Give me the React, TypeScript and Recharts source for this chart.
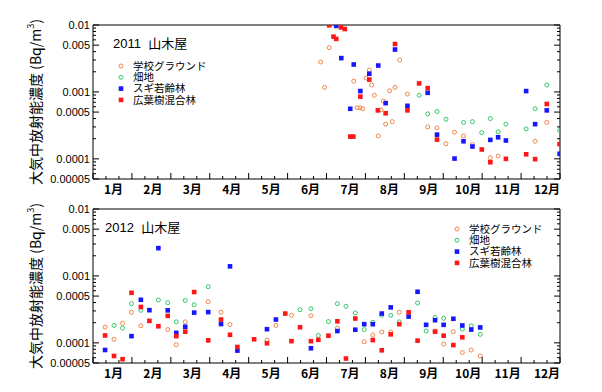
import React from "react";
import { ScatterChart, Scatter, XAxis, YAxis, Legend } from "recharts";

const monthLabels = ["1月", "2月", "3月", "4月", "5月", "6月", "7月", "8月", "9月", "10月", "11月", "12月"];
const yLabelValues = [0.01, 0.005, 0.001, 0.0005, 0.0001, 0.00005];
const yLabelTexts = ["0.01", "0.005", "0.001", "0.0005", "0.0001", "0.00005"];

const seriesNames = ["学校グラウンド", "畑地", "スギ若齢林", "広葉樹混合林"];
const seriesColors = ["#f2874a", "#33c96a", "#1616ff", "#ff1616"];
const seriesMarkers = ["circle", "circle", "square", "square"];

// [position in months (1 = 1 Jan, 13 = 31 Dec), Bq/m3]
const school2011 = [
  [6.85, 0.0028], [6.95, 0.00117], [7.07, 0.0046], [7.7, 0.00145], [7.79, 0.00058], [7.86, 0.00058],
  [7.93, 0.00056], [8.02, 0.00161], [8.1, 0.00212], [8.16, 0.00127], [8.23, 0.00089], [8.33, 0.00022],
  [8.4, 0.00054], [8.46, 0.00073], [8.52, 0.00033], [8.62, 0.00104], [8.69, 0.00036], [8.76, 0.00117],
  [8.88, 0.003], [9.08, 0.00093], [9.6, 0.0003], [9.84, 0.00029], [10.07, 0.000168], [10.29, 0.00025],
  [10.52, 0.00022], [10.75, 0.000164], [11.21, 0.000104], [11.41, 0.00011], [12.36, 0.000183], [12.66, 0.00035],
];
const field2011 = [
  [9.38, 0.00089], [9.6, 0.00047], [9.84, 0.00051], [10.07, 0.00039], [10.52, 0.00035], [10.75, 0.00036],
  [10.99, 0.000247], [11.21, 0.0004], [11.41, 0.000253], [11.61, 0.00033], [12.13, 0.00028], [12.36, 0.00056],
  [12.66, 0.00127], [12.99, 0.000265],
];
const cedar2011 = [
  [7.25, 0.0097], [7.38, 0.0032], [7.7, 0.00257], [7.61, 0.00056], [7.87, 0.00103], [8.1, 0.00187],
  [8.33, 0.00248], [8.52, 0.00068], [8.76, 0.0043], [9.08, 0.00062], [9.6, 0.00097], [9.84, 0.00023],
  [10.29, 0.000101], [10.52, 0.000183], [10.75, 0.000153], [11.21, 0.000192], [11.41, 0.00021], [11.61, 0.000188],
  [12.13, 0.00103], [12.36, 0.00033], [12.66, 0.00053], [12.99, 0.000119],
];
const broadleaf2011 = [
  [7.07, 0.0099], [7.18, 0.0067], [7.25, 0.0062], [7.37, 0.0092], [7.47, 0.0087], [7.61, 0.000215],
  [7.69, 0.000215], [7.87, 0.00085], [8.1, 0.00153], [8.32, 0.00053], [8.52, 0.00048], [8.76, 0.0052],
  [9.08, 0.00053], [9.38, 0.00134], [9.6, 0.00114], [9.84, 0.000194], [10.99, 0.000138], [11.21, 0.000089],
  [11.61, 0.0001], [12.13, 0.000117], [12.36, 0.000099], [12.66, 0.00066], [12.99, 0.000166],
];

const school2012 = [
  [1.31, 0.000172], [1.54, 0.000113], [1.76, 0.000196], [1.99, 0.000286], [2.23, 0.00018], [2.92, 0.000158],
  [3.14, 0.000094], [3.37, 0.000206], [3.96, 0.000412], [4.29, 0.000286], [4.52, 0.000188], [5.47, 0.00011],
  [5.7, 0.000182], [6.1, 0.000258], [6.6, 0.000255], [7.28, 0.000166], [7.97, 0.000104], [8.19, 0.000131],
  [8.42, 0.000145], [8.65, 0.000145], [8.87, 0.000286], [9.79, 0.00015], [10.01, 0.000096], [10.26, 0.000147],
  [10.49, 0.0000716], [10.72, 0.0000782], [10.95, 0.0000637],
];
const field2012 = [
  [1.54, 0.000182], [1.76, 0.000166], [1.99, 0.000385], [2.23, 0.000306], [2.68, 0.000436], [2.92, 0.000398],
  [3.14, 0.000206], [3.37, 0.00043], [3.6, 0.000372], [3.96, 0.00069], [6.32, 0.000313], [6.6, 0.000324],
  [6.79, 0.000129], [7.05, 0.000208], [7.28, 0.000385], [7.5, 0.000351], [7.74, 0.00028], [7.97, 0.000158],
  [8.19, 0.000203], [8.42, 0.000258], [8.65, 0.000258], [8.87, 0.000206], [9.34, 0.000394], [9.56, 0.00015],
  [9.79, 0.000239], [10.01, 0.000233], [10.49, 0.00016], [10.72, 0.00018], [10.95, 0.000134],
];
const cedar2012 = [
  [1.31, 0.0000782], [1.99, 0.000126], [2.23, 0.00044], [2.45, 0.000308], [2.68, 0.0026], [2.92, 0.000306],
  [3.14, 0.000141], [3.37, 0.000174], [3.6, 0.000283], [3.96, 0.000288], [4.29, 0.000191], [4.52, 0.00139],
  [4.71, 0.0000766], [5.47, 0.00016], [5.7, 0.000223], [6.6, 0.000083], [7.28, 0.00015], [7.74, 0.000157],
  [7.97, 0.00019], [8.19, 0.00019], [8.42, 0.000274], [8.65, 0.000339], [9.11, 0.000247], [9.34, 0.00058],
  [9.56, 0.000186], [9.79, 0.000218], [10.01, 0.000186], [10.26, 0.000229], [10.49, 0.000182], [10.72, 0.000158],
  [10.95, 0.00017],
];
const broadleaf2012 = [
  [1.31, 0.000129], [1.54, 0.0000637], [1.76, 0.000057], [1.99, 0.00056], [2.23, 0.000344], [2.45, 0.000213],
  [2.68, 0.000177], [2.92, 0.000253], [3.14, 0.000126], [3.37, 0.000147], [3.6, 0.000574], [3.96, 0.000109],
  [4.29, 0.000223], [4.52, 0.000132], [4.71, 0.0000867], [5.14, 0.000113], [5.47, 0.0000984], [5.94, 0.000274],
  [6.1, 0.000106], [6.32, 0.000171], [6.6, 0.000106], [6.79, 0.000111], [7.05, 0.000128], [7.28, 0.00021],
  [7.5, 0.0000583], [7.74, 0.000231], [8.19, 0.00011], [8.42, 0.0000774], [8.65, 0.000134], [8.87, 0.00019],
  [9.11, 0.000286], [9.34, 0.000108], [9.79, 0.000147], [10.01, 0.000128], [10.26, 0.0000927], [10.49, 0.000121],
];

const FONT = "'Liberation Sans', Arial, 'Noto Sans CJK JP', sans-serif";
const JP_FONT = "'Noto Sans CJK JP', 'Liberation Sans', sans-serif";

// tick positions every 1/6 month: marks on every 1/3, labels on month centres
const xTicks = Array.from({ length: 73 }, (_, i) => 1 + i / 6);
const topTicks = Array.from({ length: 37 }, (_, i) => 1 + i / 3);
const yTicks: number[] = [];
for (let e = -5; e <= -3; e++) {
  for (let m = 1; m <= 9; m++) {
    const v = m * Math.pow(10, e);
    if (v >= 0.00005 * 0.999) yTicks.push(v);
  }
}
yTicks.push(0.01);

const toPoints = (arr: number[][]) => arr.map(([x, v]) => ({ x, v }));

const labelIndex = (v: number) => yLabelValues.findIndex((l) => Math.abs(l - v) / l < 1e-6);

const BottomTick = (props: any) => {
  const { x, y, index } = props;
  const out: React.ReactNode[] = [];
  if (index % 2 === 0) {
    const len = index % 6 === 0 ? 6 : 3;
    out.push(<line key="t" x1={x} y1={y} x2={x} y2={y - len} stroke="#000" strokeWidth={1} />);
  }
  if (index % 6 === 3) {
    const m = (index - 3) / 6;
    out.push(
      <text key="l" x={x + 1 + m * 0.5} y={y + 15} textAnchor="middle" fontSize={12} fontWeight="bold" fontFamily={JP_FONT} fill="#000">
        {monthLabels[m]}
      </text>
    );
  }
  return <g>{out}</g>;
};

const TopTick = (props: any) => {
  const { x, y, index } = props;
  const len = index % 3 === 0 ? 6 : 3;
  return <line x1={x} y1={y} x2={x} y2={y + len} stroke="#000" strokeWidth={1} />;
};

const LeftTick = (props: any) => {
  const { x, y, payload } = props;
  const li = labelIndex(payload.value);
  const len = li >= 0 ? 6 : 3;
  return (
    <g>
      <line x1={x} y1={y} x2={x + len} y2={y} stroke="#000" strokeWidth={1} />
      {li >= 0 && (
        <text x={x - 3} y={y} dy={4} textAnchor="end" fontSize={11} fontFamily={FONT} fill="#000">
          {yLabelTexts[li]}
        </text>
      )}
    </g>
  );
};

const RightTick = (props: any) => {
  const { x, y, payload } = props;
  const len = labelIndex(payload.value) >= 0 ? 6 : 3;
  return <line x1={x} y1={y} x2={x - len} y2={y} stroke="#000" strokeWidth={1} />;
};

const markerShape = (i: number) => (props: any) => {
  const { cx, cy } = props;
  if (cx == null || cy == null) return <g />;
  if (seriesMarkers[i] === "circle") {
    return <circle cx={cx} cy={cy} r={2} fill="none" stroke={seriesColors[i]} strokeWidth={1} />;
  }
  return <rect x={cx - 2.3} y={cy - 2.3} width={4.6} height={4.6} fill={seriesColors[i]} />;
};

const LegendBox = () => (
  <svg width={140} height={50} style={{ display: "block", overflow: "visible" }}>
    {seriesNames.map((name, i) => {
      const cy = 6 + i * 11.3;
      return (
        <g key={name}>
          {seriesMarkers[i] === "circle" ? (
            <circle cx={6} cy={cy} r={2} fill="none" stroke={seriesColors[i]} strokeWidth={1} />
          ) : (
            <rect x={3.7} y={cy - 2.3} width={4.6} height={4.6} fill={seriesColors[i]} />
          )}
          <text x={18} y={cy} dy={3.8} fontSize={10.5} fontFamily={JP_FONT} fill="#000">
            {name}
          </text>
        </g>
      );
    })}
  </svg>
);

interface PanelProps {
  top: number;
  series: number[][][];
  title: string;
  titleX: number;
  legendLeft: number;
  legendTop: number;
}

function Panel({ top, series, title, titleX, legendLeft, legendTop }: PanelProps) {
  return (
    <div style={{ position: "absolute", left: 0, top, width: 602, height: 200 }}>
      <ScatterChart width={602} height={200} margin={{ top: 24, right: 41, bottom: 1, left: 33 }}>
        <XAxis
          xAxisId="b"
          type="number"
          dataKey="x"
          domain={[1, 13]}
          ticks={xTicks}
          interval={0}
          tick={<BottomTick />}
          tickLine={false}
          tickSize={0}
          tickMargin={0}
          height={20}
          axisLine={{ stroke: "#000" }}
          allowDataOverflow
        />
        <XAxis
          xAxisId="t"
          orientation="top"
          type="number"
          domain={[1, 13]}
          ticks={topTicks}
          interval={0}
          tick={<TopTick />}
          tickLine={false}
          tickSize={0}
          tickMargin={0}
          height={1}
          axisLine={{ stroke: "#000" }}
          allowDataOverflow
        />
        <YAxis
          yAxisId="l"
          type="number"
          dataKey="v"
          scale="log"
          domain={[0.00005, 0.01]}
          ticks={yTicks}
          interval={0}
          tick={<LeftTick />}
          tickLine={false}
          tickSize={0}
          tickMargin={0}
          width={60}
          axisLine={{ stroke: "#000" }}
          allowDataOverflow
        />
        <YAxis
          yAxisId="r"
          orientation="right"
          type="number"
          scale="log"
          domain={[0.00005, 0.01]}
          ticks={yTicks}
          interval={0}
          tick={<RightTick />}
          tickLine={false}
          tickSize={0}
          tickMargin={0}
          width={1}
          axisLine={{ stroke: "#000" }}
          allowDataOverflow
        />
        <Legend
          layout="vertical"
          align="center"
          verticalAlign="middle"
          content={<LegendBox />}
          wrapperStyle={{ position: "absolute", left: legendLeft, top: legendTop, width: 140 }}
        />
        {series.map((pts, i) => (
          <Scatter
            key={seriesNames[i]}
            name={seriesNames[i]}
            xAxisId="b"
            yAxisId="l"
            data={toPoints(pts)}
            fill={seriesColors[i]}
            shape={markerShape(i)}
            isAnimationActive={false}
          />
        ))}
      </ScatterChart>
      <svg width={602} height={200} style={{ position: "absolute", left: 0, top: 0, pointerEvents: "none" }}>
        <text
          transform="translate(35,102) rotate(-90)"
          textAnchor="middle"
          dominantBaseline="central"
          fontSize={14}
          fontFamily={JP_FONT}
          fill="#000"
        >
          大気中放射能濃度 (Bq/m
          <tspan dy={-5} fontSize={9}>3</tspan>
          <tspan dy={5}>)</tspan>
        </text>
        <text x={titleX} y={43} dy={5} fontSize={13} fontFamily={FONT} fill="#000">
          {title}
        </text>
      </svg>
    </div>
  );
}

export default function App() {
  return (
    <div style={{ position: "absolute", left: 0, top: 0, width: 602, height: 392, background: "#fff" }}>
      <Panel
        top={0}
        series={[school2011, field2011, cedar2011, broadleaf2011]}
        title={"2011\u00a0\u00a0山木屋"}
        titleX={113}
        legendLeft={115}
        legendTop={60}
      />
      <Panel
        top={184}
        series={[school2012, field2012, cedar2012, broadleaf2012]}
        title={"2012\u00a0\u00a0山木屋"}
        titleX={105}
        legendLeft={451}
        legendTop={39}
      />
    </div>
  );
}
